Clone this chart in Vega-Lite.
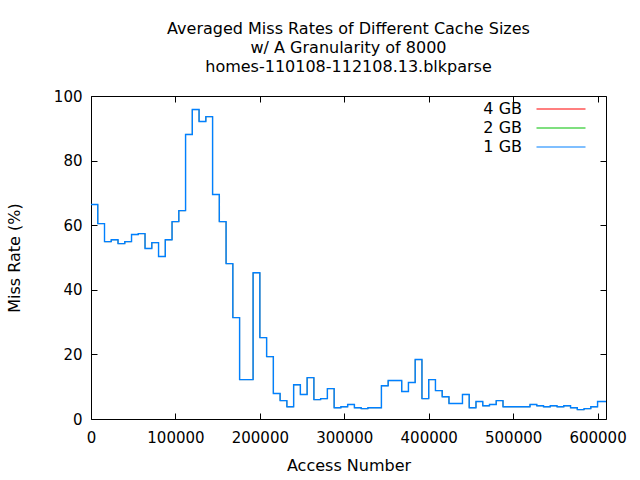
{
  "$schema": "https://vega.github.io/schema/vega-lite/v6.json",
  "width": 515,
  "height": 323,
  "autosize": {"type": "none"},
  "padding": {"left": 91, "top": 96, "right": 34, "bottom": 61},
  "background": "white",
  "title": {
    "text": ["Averaged Miss Rates of Different Cache Sizes", "w/ A Granularity of 8000", "homes-110108-112108.13.blkparse"],
    "font": "DejaVu Sans",
    "fontSize": 16,
    "fontWeight": "normal",
    "color": "black",
    "lineHeight": 19,
    "anchor": "middle",
    "frame": "group",
    "offset": 14
  },
  "config": {
    "view": {"stroke": "black", "strokeWidth": 1},
    "axis": {
      "domain": false,
      "grid": false,
      "tickColor": "black",
      "tickSize": -6,
      "tickWidth": 1,
      "labelFont": "DejaVu Sans",
      "labelFontSize": 15,
      "labelColor": "black",
      "titleFont": "DejaVu Sans",
      "titleFontSize": 16,
      "titleFontWeight": "normal",
      "titleColor": "black",
      "labelFlush": false,
      "labelOverlap": false
    },
    "legend": {
      "orient": "none",
      "legendX": 460,
      "legendY": 3,
      "title": null,
      "symbolType": "M-2.45,-0.06H2.45V0.06H-2.45Z",
      "symbolSize": 400,
      "symbolStrokeWidth": 0,
      "labelAlign": "right",
      "labelOffset": -49,
      "labelFont": "DejaVu Sans",
      "labelFontSize": 16,
      "labelColor": "black",
      "rowPadding": 1
    }
  },
  "data": {
    "values": [
      {"access": 0, "r4": 66.4, "r2": 66.4, "r1": 66.4},
      {"access": 8000, "r4": 60.5, "r2": 60.5, "r1": 60.5},
      {"access": 16000, "r4": 54.9, "r2": 54.9, "r1": 54.9},
      {"access": 24000, "r4": 55.5, "r2": 55.5, "r1": 55.5},
      {"access": 32000, "r4": 54.3, "r2": 54.3, "r1": 54.3},
      {"access": 40000, "r4": 54.9, "r2": 54.9, "r1": 54.9},
      {"access": 48000, "r4": 57.1, "r2": 57.1, "r1": 57.1},
      {"access": 56000, "r4": 57.4, "r2": 57.4, "r1": 57.4},
      {"access": 64000, "r4": 52.8, "r2": 52.8, "r1": 52.8},
      {"access": 72000, "r4": 54.6, "r2": 54.6, "r1": 54.6},
      {"access": 80000, "r4": 50.3, "r2": 50.3, "r1": 50.3},
      {"access": 88000, "r4": 55.5, "r2": 55.5, "r1": 55.5},
      {"access": 96000, "r4": 61.1, "r2": 61.1, "r1": 61.1},
      {"access": 104000, "r4": 64.5, "r2": 64.5, "r1": 64.5},
      {"access": 112000, "r4": 88.1, "r2": 88.1, "r1": 88.1},
      {"access": 120000, "r4": 95.8, "r2": 95.8, "r1": 95.8},
      {"access": 128000, "r4": 92.1, "r2": 92.1, "r1": 92.1},
      {"access": 136000, "r4": 93.6, "r2": 93.6, "r1": 93.6},
      {"access": 144000, "r4": 69.5, "r2": 69.5, "r1": 69.5},
      {"access": 152000, "r4": 61.1, "r2": 61.1, "r1": 61.1},
      {"access": 160000, "r4": 48.1, "r2": 48.1, "r1": 48.1},
      {"access": 168000, "r4": 31.4, "r2": 31.4, "r1": 31.4},
      {"access": 176000, "r4": 12.2, "r2": 12.2, "r1": 12.2},
      {"access": 184000, "r4": 12.2, "r2": 12.2, "r1": 12.2},
      {"access": 192000, "r4": 45.3, "r2": 45.3, "r1": 45.3},
      {"access": 200000, "r4": 25.2, "r2": 25.2, "r1": 25.2},
      {"access": 208000, "r4": 19.3, "r2": 19.3, "r1": 19.3},
      {"access": 216000, "r4": 7.9, "r2": 7.9, "r1": 7.9},
      {"access": 224000, "r4": 5.7, "r2": 5.7, "r1": 5.7},
      {"access": 232000, "r4": 3.8, "r2": 3.8, "r1": 3.8},
      {"access": 240000, "r4": 10.6, "r2": 10.6, "r1": 10.6},
      {"access": 248000, "r4": 7.6, "r2": 7.6, "r1": 7.6},
      {"access": 256000, "r4": 12.8, "r2": 12.8, "r1": 12.8},
      {"access": 264000, "r4": 6.0, "r2": 6.0, "r1": 6.0},
      {"access": 272000, "r4": 6.3, "r2": 6.3, "r1": 6.3},
      {"access": 280000, "r4": 9.4, "r2": 9.4, "r1": 9.4},
      {"access": 288000, "r4": 3.5, "r2": 3.5, "r1": 3.5},
      {"access": 296000, "r4": 3.8, "r2": 3.8, "r1": 3.8},
      {"access": 304000, "r4": 4.5, "r2": 4.5, "r1": 4.5},
      {"access": 312000, "r4": 3.5, "r2": 3.5, "r1": 3.5},
      {"access": 320000, "r4": 3.2, "r2": 3.2, "r1": 3.2},
      {"access": 328000, "r4": 3.5, "r2": 3.5, "r1": 3.5},
      {"access": 336000, "r4": 3.5, "r2": 3.5, "r1": 3.5},
      {"access": 344000, "r4": 10.3, "r2": 10.3, "r1": 10.3},
      {"access": 352000, "r4": 11.9, "r2": 11.9, "r1": 11.9},
      {"access": 360000, "r4": 11.9, "r2": 11.9, "r1": 11.9},
      {"access": 368000, "r4": 8.5, "r2": 8.5, "r1": 8.5},
      {"access": 376000, "r4": 11.3, "r2": 11.3, "r1": 11.3},
      {"access": 384000, "r4": 18.4, "r2": 18.4, "r1": 18.4},
      {"access": 392000, "r4": 6.3, "r2": 6.3, "r1": 6.3},
      {"access": 400000, "r4": 12.2, "r2": 12.2, "r1": 12.2},
      {"access": 408000, "r4": 8.8, "r2": 8.8, "r1": 8.8},
      {"access": 416000, "r4": 6.9, "r2": 6.9, "r1": 6.9},
      {"access": 424000, "r4": 4.8, "r2": 4.8, "r1": 4.8},
      {"access": 432000, "r4": 4.8, "r2": 4.8, "r1": 4.8},
      {"access": 440000, "r4": 7.6, "r2": 7.6, "r1": 7.6},
      {"access": 448000, "r4": 3.5, "r2": 3.5, "r1": 3.5},
      {"access": 456000, "r4": 5.4, "r2": 5.4, "r1": 5.4},
      {"access": 464000, "r4": 4.1, "r2": 4.1, "r1": 4.1},
      {"access": 472000, "r4": 4.5, "r2": 4.5, "r1": 4.5},
      {"access": 480000, "r4": 5.7, "r2": 5.7, "r1": 5.7},
      {"access": 488000, "r4": 3.8, "r2": 3.8, "r1": 3.8},
      {"access": 496000, "r4": 3.8, "r2": 3.8, "r1": 3.8},
      {"access": 504000, "r4": 3.8, "r2": 3.8, "r1": 3.8},
      {"access": 512000, "r4": 3.8, "r2": 3.8, "r1": 3.8},
      {"access": 520000, "r4": 4.5, "r2": 4.5, "r1": 4.5},
      {"access": 528000, "r4": 4.1, "r2": 4.1, "r1": 4.1},
      {"access": 536000, "r4": 3.8, "r2": 3.8, "r1": 3.8},
      {"access": 544000, "r4": 4.1, "r2": 4.1, "r1": 4.1},
      {"access": 552000, "r4": 3.8, "r2": 3.8, "r1": 3.8},
      {"access": 560000, "r4": 4.1, "r2": 4.1, "r1": 4.1},
      {"access": 568000, "r4": 3.5, "r2": 3.5, "r1": 3.5},
      {"access": 576000, "r4": 2.9, "r2": 2.9, "r1": 2.9},
      {"access": 584000, "r4": 3.2, "r2": 3.2, "r1": 3.2},
      {"access": 592000, "r4": 3.8, "r2": 3.8, "r1": 3.8},
      {"access": 600000, "r4": 5.4, "r2": 5.4, "r1": 5.4},
      {"access": 610000, "r4": 5.4, "r2": 5.4, "r1": 5.4}
    ]
  },
  "resolve": {"axis": {"x": "independent", "y": "independent"}},
  "layer": [
    {
      "mark": {"type": "line", "interpolate": "step-after", "strokeWidth": 0.5, "clip": true},
      "encoding": {
        "x": {"field": "access", "type": "quantitative", "scale": {"domain": [0, 610000], "nice": false},
          "axis": {"title": "Access Number", "values": [0, 100000, 200000, 300000, 400000, 500000, 600000], "format": "d", "labelPadding": 17, "titlePadding": 12}},
        "y": {"field": "r4", "type": "quantitative", "scale": {"domain": [0, 100], "nice": false},
          "axis": {"title": "Miss Rate (%)", "values": [0, 20, 40, 60, 80, 100], "labelPadding": 15, "titlePadding": 31}},
        "color": {"datum": "4 GB", "type": "nominal",
          "scale": {"domain": ["4 GB", "2 GB", "1 GB"], "range": ["#ff0000", "#00c000", "#0080ff"]},
          "legend": {"encode": {"symbols": {"update": {"fill": {"scale": "color", "field": "value"}, "stroke": {"value": "transparent"}, "opacity": {"value": 1}}}}}}
      }
    },
    {
      "mark": {"type": "line", "interpolate": "step-after", "strokeWidth": 0.5, "clip": true},
      "encoding": {
        "x": {"field": "access", "type": "quantitative", "axis": null},
        "y": {"field": "r2", "type": "quantitative", "axis": null},
        "color": {"datum": "2 GB", "type": "nominal"}
      }
    },
    {
      "mark": {"type": "line", "interpolate": "step-after", "strokeWidth": 1.4, "clip": true},
      "encoding": {
        "x": {"field": "access", "type": "quantitative",
          "axis": {"orient": "top", "title": null, "labels": false, "values": [0, 100000, 200000, 300000, 400000, 500000, 600000]}},
        "y": {"field": "r1", "type": "quantitative",
          "axis": {"orient": "right", "title": null, "labels": false, "values": [0, 20, 40, 60, 80, 100]}},
        "color": {"datum": "1 GB", "type": "nominal"}
      }
    }
  ]
}
